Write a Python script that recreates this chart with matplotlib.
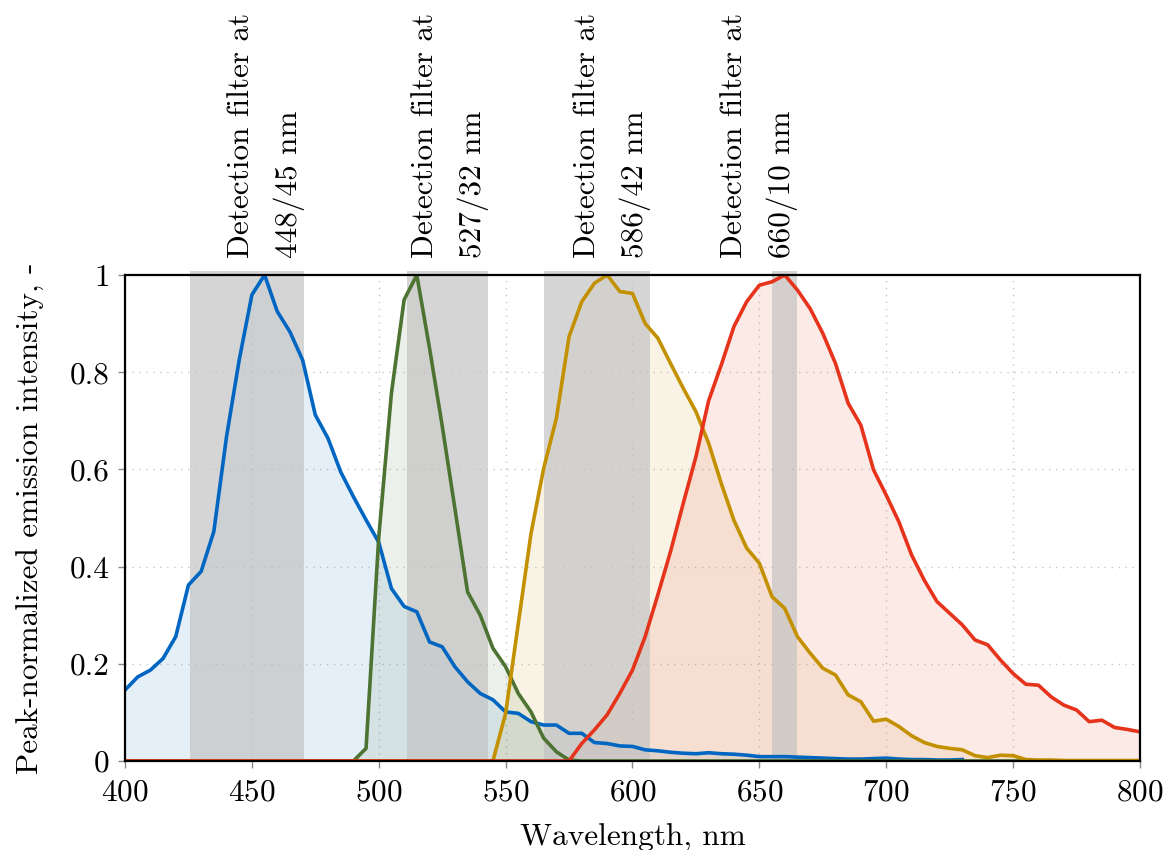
import matplotlib
matplotlib.use("Agg")
import matplotlib.pyplot as plt
from matplotlib.ticker import FuncFormatter
import matplotlib.transforms as mtransforms

plt.rcParams['font.family'] = ['cmr10', 'DejaVu Serif']
plt.rcParams['axes.formatter.use_mathtext'] = True
plt.rcParams['mathtext.fontset'] = 'cm'

# ---------------- data ----------------
blue_wl = list(range(400, 735, 5))
blue = [0.146, 0.173, 0.187, 0.211, 0.256, 0.362, 0.390, 0.472, 0.667, 0.825,
        0.959, 1.000, 0.925, 0.883, 0.825, 0.712, 0.664, 0.595, 0.544, 0.496,
        0.450, 0.355, 0.318, 0.307, 0.245, 0.235, 0.194, 0.163, 0.139, 0.126,
        0.101, 0.098, 0.081, 0.074, 0.074, 0.057, 0.057, 0.038, 0.036, 0.031,
        0.030, 0.023, 0.021, 0.018, 0.016, 0.015, 0.017, 0.015, 0.014, 0.012,
        0.009, 0.009, 0.009, 0.008, 0.007, 0.006, 0.005, 0.004, 0.004, 0.005,
        0.006, 0.004, 0.003, 0.003, 0.002, 0.002, 0.003]

green_wl = [400] + list(range(490, 585, 5)) + [800]
green = [0.0, 0.0, 0.026, 0.460, 0.757, 0.949, 1.000, 0.850, 0.690, 0.520,
         0.348, 0.300, 0.232, 0.194, 0.139, 0.101, 0.047, 0.019, 0.002, 0.0,
         0.0]

yellow_wl = [400] + list(range(545, 805, 5))
yellow = [0.0, 0.0, 0.098, 0.283, 0.468, 0.602, 0.705, 0.873, 0.945, 0.983,
          1.000, 0.966, 0.962, 0.900, 0.870, 0.818, 0.767, 0.719, 0.654, 0.571,
          0.495, 0.438, 0.407, 0.338, 0.314, 0.256, 0.222, 0.191, 0.177, 0.136,
          0.122, 0.082, 0.086, 0.071, 0.052, 0.038, 0.030, 0.026, 0.023, 0.011,
          0.007, 0.012, 0.011, 0.003, 0.002, 0.002, 0.001, 0.001, 0.001, 0.001,
          0.001, 0.001, 0.001]

red_wl = [400] + list(range(570, 805, 5))
red = [0.0, 0.0, 0.0, 0.036, 0.064, 0.095, 0.139, 0.187, 0.256, 0.342,
       0.431, 0.530, 0.626, 0.741, 0.815, 0.894, 0.945, 0.979, 0.986, 1.000,
       0.969, 0.931, 0.880, 0.818, 0.736, 0.691, 0.599, 0.547, 0.492, 0.424,
       0.372, 0.328, 0.304, 0.280, 0.249, 0.239, 0.208, 0.180, 0.158, 0.156,
       0.132, 0.115, 0.105, 0.081, 0.084, 0.069, 0.065, 0.060]

filter_centers = [448, 527, 586, 660]
filter_widths = [45, 32, 42, 10]
filter_labels = ["Detection filter at\n448/45 nm", "Detection filter at\n527/32 nm",
                 "Detection filter at\n586/42 nm", "Detection filter at\n660/10 nm"]
label_x = [455.5, 528, 592, 650]

series = [(blue_wl, blue, '#0066c2'), (green_wl, green, '#4d7332'),
          (yellow_wl, yellow, '#c39100'), (red_wl, red, '#e6331b')]

x_ticks = [400, 450, 500, 550, 600, 650, 700, 750, 800]
y_ticks = [0, 0.2, 0.4, 0.6, 0.8, 1.0]

FS = 22.5

# ---------------- figure ----------------
fig = plt.figure(figsize=(11.65, 8.5), dpi=100)
ax = fig.add_axes([0.1073, 0.1047, 0.8712, 0.5718])

for wl, vals, col in series:
    ax.fill_between(wl, 0, vals, color=col, alpha=0.1, linewidth=0, zorder=1)

for c, w in zip(filter_centers, filter_widths):
    r = ax.axvspan(c - w / 2, c + w / 2, ymin=0, ymax=1.008, color='#c2c2c2',
                   alpha=0.68, linewidth=0, zorder=2)
    r.set_clip_on(False)

for wl, vals, col in series:
    ax.plot(wl, vals, color=col, linewidth=2.6, zorder=3, solid_joinstyle='round')

trans = mtransforms.blended_transform_factory(ax.transData, ax.transAxes)
for lx, lab in zip(label_x, filter_labels):
    ax.text(lx, 1.035, lab, rotation=90, ha='center', va='bottom',
            multialignment='left', fontsize=FS, linespacing=1.8, transform=trans)

ax.set_xlim(400, 800)
ax.set_ylim(0, 1)
ax.set_xticks(x_ticks)
ax.set_yticks(y_ticks)
ax.yaxis.set_major_formatter(FuncFormatter(lambda v, p: f"{v:g}"))
ax.tick_params(axis='both', which='major', labelsize=FS, direction='out',
               length=5, width=1, color='#888888')
ax.tick_params(axis='x', pad=8)
ax.tick_params(axis='y', pad=6)
ax.grid(True, color='#c8c8c8', linestyle=(0, (1, 4)), linewidth=1.0, zorder=0)
ax.set_axisbelow(True)
for s in ax.spines.values():
    s.set_linewidth(1.6)
    s.set_color('black')
    s.set_zorder(5)

ax.set_xlabel("Wavelength, nm", fontsize=FS, labelpad=12)
ax.set_ylabel("Peak-normalized emission intensity, -", fontsize=FS, labelpad=18)

fig.savefig("out.png", dpi=100)
